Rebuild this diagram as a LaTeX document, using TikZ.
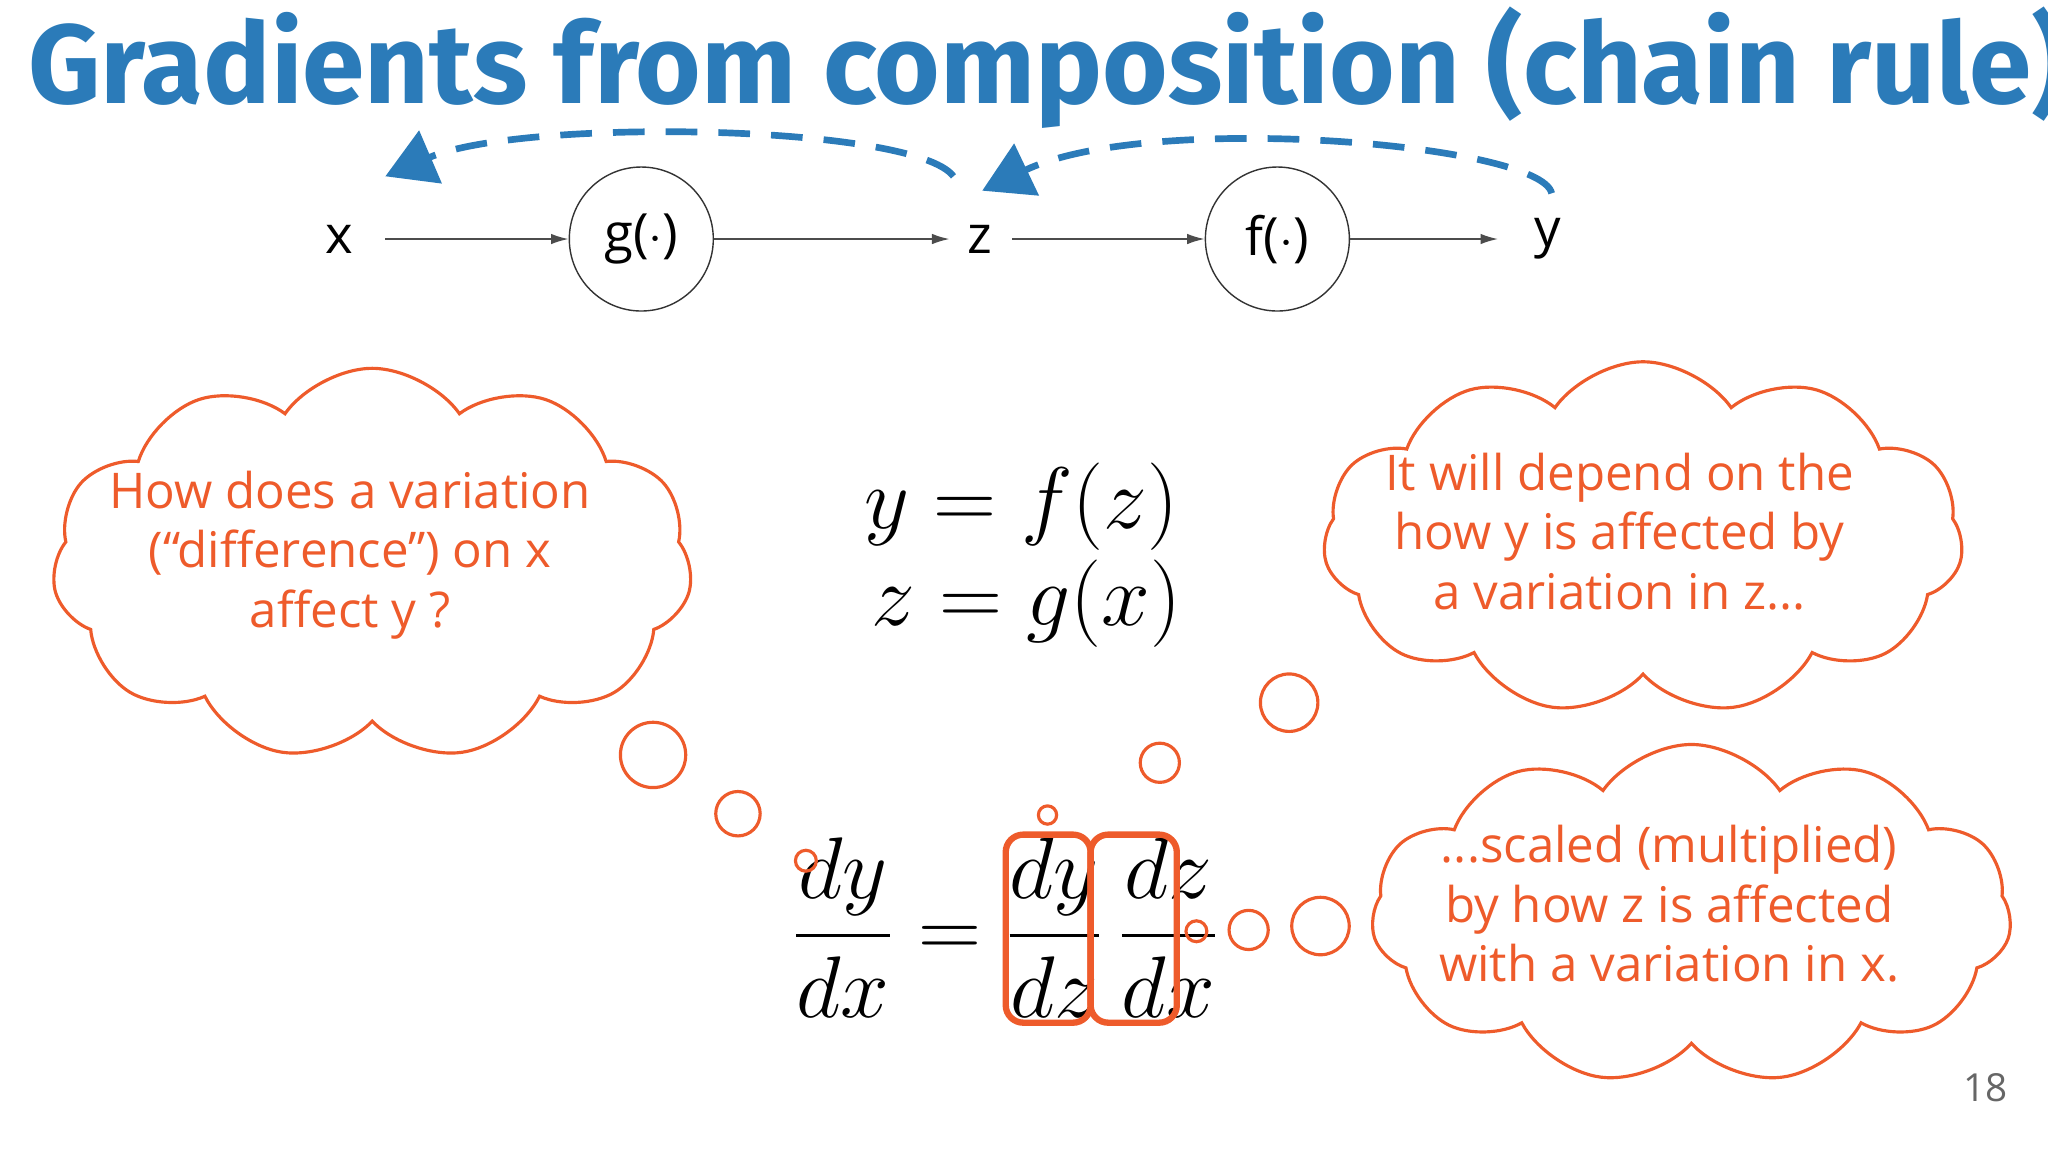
\documentclass[tikz,border=0pt]{standalone}
\usepackage{amsmath}
\usepackage{fontspec}
\setmainfont{Open Sans}
\newfontfamily\titlefont{Fira Sans}
\usetikzlibrary{shapes.symbols,arrows.meta,calc}
\definecolor{tblue}{HTML}{2B7BB9}
\definecolor{torange}{HTML}{EE5B2B}
\begin{document}
\begin{tikzpicture}[x=0.01306cm,y=-0.01306cm,
  cloudbox/.style={cloud,cloud puffs=11,cloud puff arc=110,draw=torange,line width=0.9pt,aspect=1.8},
  cloudtxt/.style={text=torange,align=center,font=\fontsize{14}{17}\selectfont},
  bub/.style={draw=torange,line width=0.9pt,circle,inner sep=0pt},
  opnode/.style={draw=black!80,circle,minimum size=1.44cm,inner sep=0pt,font=\fontsize{15}{18}\selectfont},
  var/.style={font=\fontsize{15}{18}\selectfont},
  flow/.style={-{Latex[length=5pt,width=3pt]},draw=black!70,line width=0.5pt},
  back/.style={draw=tblue,line width=1.9pt,dash pattern=on 9pt off 6pt,-{Triangle[length=14pt,width=16pt]}},
  fbox/.style={draw=torange,line width=1.8pt,rounded corners=5pt}]
\useasboundingbox (0,0) rectangle (1568,882);
\node[anchor=west,text=tblue,font=\titlefont\bfseries\fontsize{32}{38}\selectfont] (title) at (12,52) {Gradients from composition (chain rule)};
\node[var] (x) at (260,183) {x};
\node[opnode] (g) at (491,183) {g($\cdot$)};
\node[var] (z) at (750,183) {z};
\node[opnode] (f) at (978,183) {f($\cdot$)};
\node[var] (y) at (1185,183) {y};
\coordinate (xo) at (295,183);
\coordinate (zi) at (727,183);
\coordinate (zo) at (775,183);
\coordinate (yi) at (1147,183);
\draw[flow] (xo) -- (g);
\draw[flow] (g) -- (zi);
\draw[flow] (zo) -- (f);
\draw[flow] (f) -- (yi);
\coordinate (zt) at (730,135);
\coordinate (xt) at (295,135);
\coordinate (yt) at (1188,148);
\coordinate (zt2) at (752,146);
\draw[back] (zt) .. controls (700,95) and (400,90) .. (xt);
\draw[back] (yt) .. controls (1180,110) and (880,85) .. (zt2);
\node[cloudbox,minimum width=490*0.01306cm,minimum height=300*0.01306cm] (c1) at (285,432) {};
\node[cloudtxt] (t1) at (268,425) {How does a variation\\(“difference”) on x\\affect y ?};
\node[cloudbox,minimum width=490*0.01306cm,minimum height=270*0.01306cm] (c2) at (1258,412) {};
\node[cloudtxt] (t2) at (1240,407) {It will depend on the\\how y is affected by\\a variation in z...};
\node[cloudbox,minimum width=490*0.01306cm,minimum height=260*0.01306cm] (c3) at (1295,700) {};
\node[cloudtxt] (t3) at (1278,692) {...scaled (multiplied)\\by how z is affected\\with a variation in x.};
\node[font=\fontsize{30}{36}\selectfont] (e1) at (782,388) {$y = f(z)$};
\node[font=\fontsize{30}{36}\selectfont] (e2) at (786,462) {$z = g(x)$};
\node[font=\fontsize{30}{36}\selectfont] (e3) at (770,710) {$\dfrac{dy}{dx} = \dfrac{dy}{dz}\,\dfrac{dz}{dx}$};
\draw[fbox] (770,639) rectangle (835,783);
\draw[fbox] (835,639) rectangle (901,783);
\foreach \n/\px/\py/\r in {b1/500/578/25,b2/565/623/17,b3/617/659/8,b4/987/538/22,b5/888/584/15,b6/802/624/7,b7/916/713/8,b8/956/712/15,b9/1011/709/22}
  \node[bub,minimum size=2*\r*0.01306cm] (\n) at (\px,\py) {};
\node[text=black!60,font=\fontsize{11}{13}\selectfont] (pg) at (1520,833) {18};
\end{tikzpicture}
\end{document}
